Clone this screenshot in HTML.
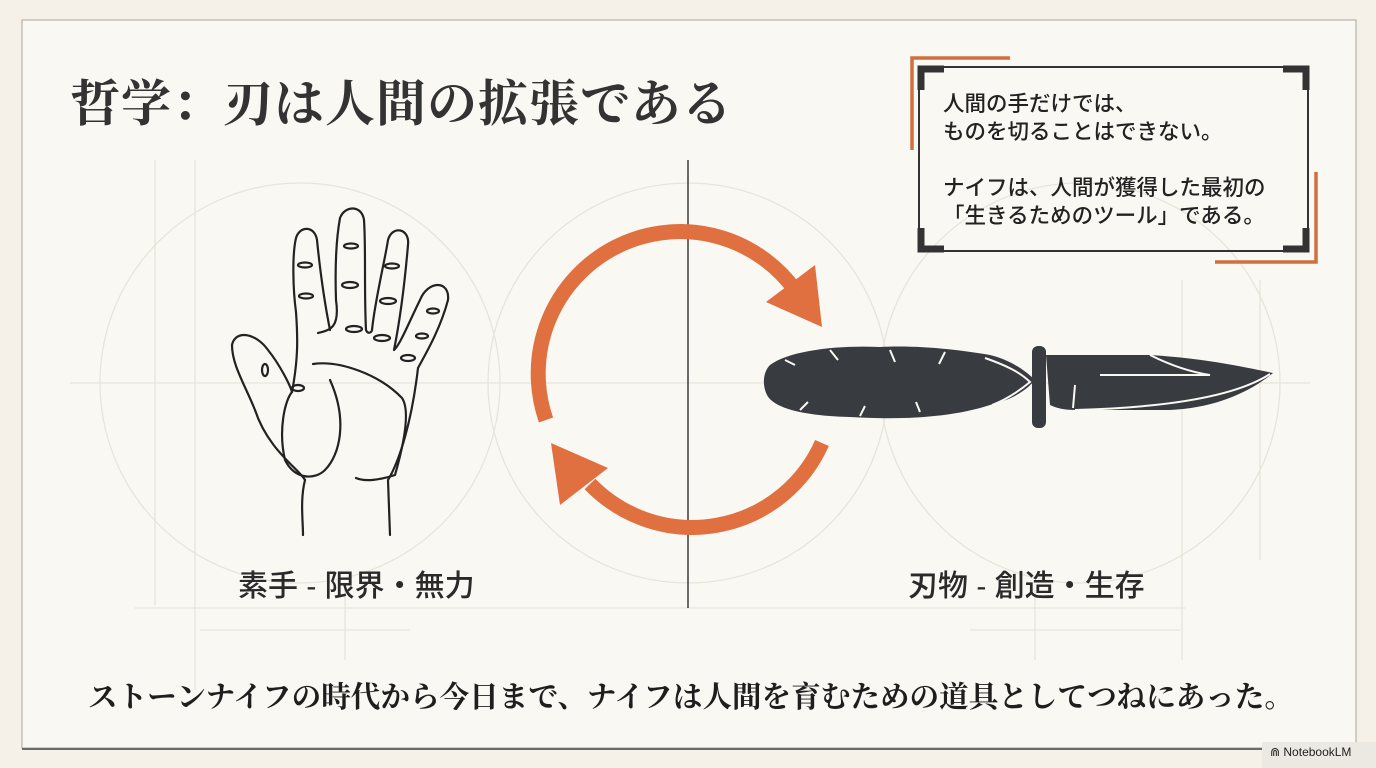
<!DOCTYPE html>
<html><head><meta charset="utf-8"><style>
html,body{margin:0;padding:0;}
body{width:1376px;height:768px;background:#f5f1e8;position:relative;overflow:hidden;font-family:"Liberation Sans","Noto Sans CJK JP",sans-serif;color:#2e3135;}
.t{position:absolute;white-space:nowrap;}
</style></head><body>
<svg width="1376" height="768" style="position:absolute;left:0;top:0">
<rect x="0" y="0" width="1376" height="768" fill="#f5f1e8"/>
<rect x="22" y="20" width="1334" height="728" fill="#faf8f3" stroke="#b5b2aa" stroke-width="1.2"/>
<line x1="22" y1="749" x2="1356" y2="749" stroke="#6b6b68" stroke-width="2"/>
<g stroke="#e8e4db" stroke-width="1.3" fill="none">
<line x1="70" y1="383" x2="1310" y2="383"/>
<line x1="135" y1="608" x2="1185" y2="608"/>
<line x1="155" y1="160" x2="155" y2="605"/>
<line x1="195" y1="160" x2="195" y2="690"/>
<line x1="1182" y1="280" x2="1182" y2="660"/>
<line x1="1260" y1="280" x2="1260" y2="560"/>
<line x1="200" y1="630" x2="410" y2="630"/>
<line x1="970" y1="630" x2="1180" y2="630"/>
<line x1="345" y1="590" x2="345" y2="660"/>
<line x1="1035" y1="590" x2="1035" y2="660"/>
<circle cx="688" cy="383" r="200"/>
<circle cx="300" cy="383" r="200"/>
<circle cx="1080" cy="383" r="200"/>
</g>
<line x1="688" y1="160" x2="688" y2="608" stroke="#3a3a3a" stroke-width="1.5"/>
<g fill="none" stroke="#e0703f" stroke-width="15">
<path d="M546 420 A142 142 0 0 1 795 290"/>
<path d="M822 443 A142 142 0 0 1 590 484"/>
</g>
<polygon points="815,265 822,327 766,302" fill="#e0703f"/>
<polygon points="551,443 560,505 608,468" fill="#e0703f"/>
<g fill="none" stroke="#222" stroke-width="2.2" stroke-linecap="round" stroke-linejoin="round">
<path d="M305 480 C300 470 268 450 255 410 C245 385 232 365 232 345 C235 330 255 332 268 350 C280 365 290 385 292 392 C298 360 298 340 296 312 C293 290 292 255 296 238 C300 225 315 226 317 240 C320 270 325 305 330 330"/>
<path d="M318 333 C330 330 340 328 336 300 C335 270 336 240 340 218 C345 205 362 205 364 220 C366 250 364 290 366 330 C368 335 372 332 372 330 C375 300 385 260 388 240 C392 225 410 228 408 245 C405 280 400 320 394 350 C400 345 410 320 420 300 C428 280 450 280 448 300 C440 330 425 355 418 368 C412 420 400 460 388 480 L390 535"/>
<path d="M305 480 C300 500 303 520 303 535"/>
<path d="M313 364 C340 360 380 375 402 398 C410 410 405 440 395 475 C380 480 365 482 356 478"/>
<path d="M292 392 C285 400 278 430 285 460 C295 480 315 480 325 470 C340 455 348 420 330 380"/>
<ellipse cx="305" cy="265" rx="7" ry="2.5"/><ellipse cx="306" cy="296" rx="7" ry="2.5"/>
<ellipse cx="351" cy="246" rx="7" ry="2.5"/><ellipse cx="350" cy="285" rx="8" ry="3"/><ellipse cx="354" cy="329" rx="8" ry="3"/>
<ellipse cx="392" cy="266" rx="7" ry="2.5"/><ellipse cx="388" cy="301" rx="8" ry="3"/><ellipse cx="382" cy="338" rx="8" ry="3"/>
<ellipse cx="433" cy="311" rx="6" ry="2.5"/><ellipse cx="422" cy="336" rx="6" ry="2.5"/><ellipse cx="408" cy="358" rx="7" ry="3"/>
<ellipse cx="265" cy="370" rx="3" ry="6"/><ellipse cx="298" cy="388" rx="6" ry="3"/>
</g>
<g fill="#383b40">
<path d="M770 365 C790 350 840 345 880 347 C920 345 960 350 990 355 C1010 360 1025 370 1035 380 C1025 392 1010 400 990 405 C950 418 900 420 850 417 C810 416 775 410 767 395 C762 385 763 372 770 365 Z"/>
<rect x="1032" y="346" width="14" height="82" rx="6"/>
<path d="M1046 355 L1150 355 C1200 358 1240 366 1273 373 C1250 392 1215 408 1170 410 L1080 410 C1070 410 1060 410 1050 405 Z"/>
</g>
<g fill="none" stroke="#faf8f3" stroke-width="2">
<path d="M985 358 C1005 365 1020 372 1030 382 C1018 392 1005 400 992 405"/>
<path d="M1150 355 C1170 365 1190 372 1210 375 L1100 375"/>
<path d="M1075 410 C1150 408 1230 400 1270 374"/>
<path d="M1075 385 L1073 408"/>
<path d="M785 360 l10 5 M830 350 l8 10 M890 350 l5 12 M945 352 l-6 12 M800 410 l8 -8 M860 416 l5 -10 M920 412 l-4 -10"/>
</g>
<g fill="none">
<path d="M912 150 L912 58 L1010 58" stroke="#d0703f" stroke-width="3.5"/>
<path d="M1316 172 L1316 262 L1215 262" stroke="#d0703f" stroke-width="3.5"/>
<rect x="919" y="67" width="389" height="184" stroke="#333" stroke-width="2"/>
<path d="M921 90 L921 69 L944 69" stroke="#333" stroke-width="7"/>
<path d="M1283 69 L1306 69 L1306 90" stroke="#333" stroke-width="7"/>
<path d="M921 228 L921 249 L944 249" stroke="#333" stroke-width="7"/>
<path d="M1283 249 L1306 249 L1306 228" stroke="#333" stroke-width="7"/>
</g>
</svg>
<div class="t" style="left:70px;top:64px;font-size:50px;font-weight:bold;font-family:'Liberation Serif','Noto Serif CJK SC',serif;letter-spacing:1px;color:#333;">哲学：刃は人間の拡張である</div>
<div class="t" style="left:943px;top:90px;font-size:21.5px;line-height:28px;color:#222;font-weight:500;">人間の手だけでは、<br>ものを切ることはできない。<br><br>ナイフは、人間が獲得した最初の<br>「生きるためのツール」である。</div>
<div class="t" style="left:238px;top:561px;font-size:30px;color:#2a2a2a;font-weight:500;">素手 - 限界・無力</div>
<div class="t" style="left:908px;top:561px;font-size:30px;color:#2a2a2a;font-weight:500;">刃物 - 創造・生存</div>
<div class="t" style="left:88px;top:674px;font-size:29.6px;font-weight:bold;font-family:'Liberation Serif','Noto Serif CJK SC',serif;color:#1e1e1e;">ストーンナイフの時代から今日まで、ナイフは人間を育むための道具としてつねにあった。</div>
<div class="t" style="left:1262px;top:742px;width:114px;height:26px;background:#ece9e2;font-size:12px;line-height:20px;padding-left:8px;color:#222;">⋒ NotebookLM</div>
</body></html>
